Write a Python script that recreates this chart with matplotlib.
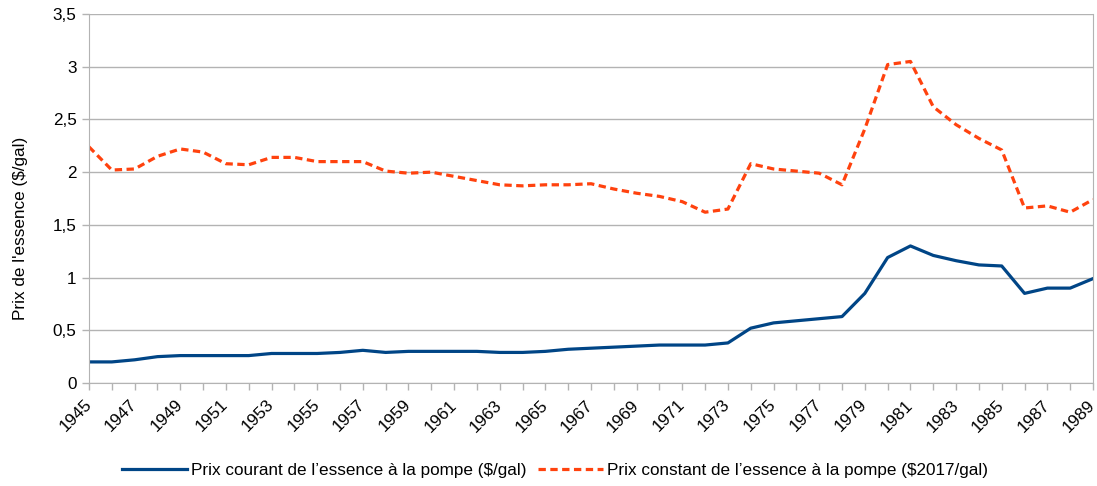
import matplotlib

matplotlib.use("Agg")
import matplotlib.pyplot as plt
from matplotlib.ticker import FuncFormatter

plt.rcParams["font.family"] = ["Liberation Sans", "DejaVu Sans"]

BLUE = "#004586"
ORANGE = "#ff420e"
GRID = "#b3b3b3"
FS = 12.3

years = list(range(1945, 1990))
prix_courant = [
    0.20, 0.20, 0.22, 0.25, 0.26, 0.26, 0.26, 0.26, 0.28, 0.28,
    0.28, 0.29, 0.31, 0.29, 0.30, 0.30, 0.30, 0.30, 0.29, 0.29,
    0.30, 0.32, 0.33, 0.34, 0.35, 0.36, 0.36, 0.36, 0.38, 0.52,
    0.57, 0.59, 0.61, 0.63, 0.85, 1.19, 1.30, 1.21, 1.16, 1.12,
    1.11, 0.85, 0.90, 0.90, 0.99,
]
prix_constant = [
    2.24, 2.02, 2.03, 2.15, 2.22, 2.19, 2.08, 2.07, 2.14, 2.14,
    2.10, 2.10, 2.10, 2.01, 1.99, 2.00, 1.96, 1.92, 1.88, 1.87,
    1.88, 1.88, 1.89, 1.84, 1.80, 1.77, 1.72, 1.62, 1.65, 2.08,
    2.03, 2.01, 1.99, 1.88, 2.41, 3.02, 3.05, 2.62, 2.45, 2.32,
    2.21, 1.66, 1.68, 1.62, 1.74,
]
yticks = [0, 0.5, 1, 1.5, 2, 2.5, 3, 3.5]

fig = plt.figure(figsize=(10.97, 4.86), dpi=100)
ax = fig.add_axes([89 / 1097, 1 - 383 / 486, (1093 - 89) / 1097, (383 - 14) / 486])

ax.plot(years, prix_courant, color=BLUE, lw=2.3, solid_joinstyle="round",
        label="Prix courant de l’essence à la pompe ($/gal)")
ax.plot(years, prix_constant, color=ORANGE, lw=2.3, dashes=(2.3, 1.4),
        label="Prix constant de l’essence à la pompe ($2017/gal)")

ax.set_xlim(years[0], years[-1])
ax.set_ylim(0, 3.5)
ax.set_yticks(yticks)
ax.yaxis.set_major_formatter(FuncFormatter(lambda v, _: f"{v:g}".replace(".", ",")))
ax.set_xticks(years)
ax.set_xticklabels([str(y) if (y - 1945) % 2 == 0 else "" for y in years],
                   rotation=45, ha="right", va="center", rotation_mode="anchor")
ax.tick_params(axis="both", labelsize=FS, color=GRID, length=5, width=1, labelcolor="black")
ax.tick_params(axis="x", pad=9)
ax.tick_params(axis="y", pad=4)
ax.grid(axis="y", color=GRID, lw=1)
ax.set_axisbelow(True)
for side in ("left", "bottom", "right"):
    ax.spines[side].set_color(GRID)
ax.spines["top"].set_visible(False)

ax.set_ylabel("Prix de l'essence ($/gal)", fontsize=FS)
ax.yaxis.set_label_coords(-0.061, 0.42)

fig.legend(loc="center", bbox_to_anchor=(0.506, 1 - 470 / 486), ncol=2, frameon=False,
           fontsize=FS, handlelength=3.8, handletextpad=0.25, columnspacing=0.7)

fig.savefig("out.png", dpi=100)
